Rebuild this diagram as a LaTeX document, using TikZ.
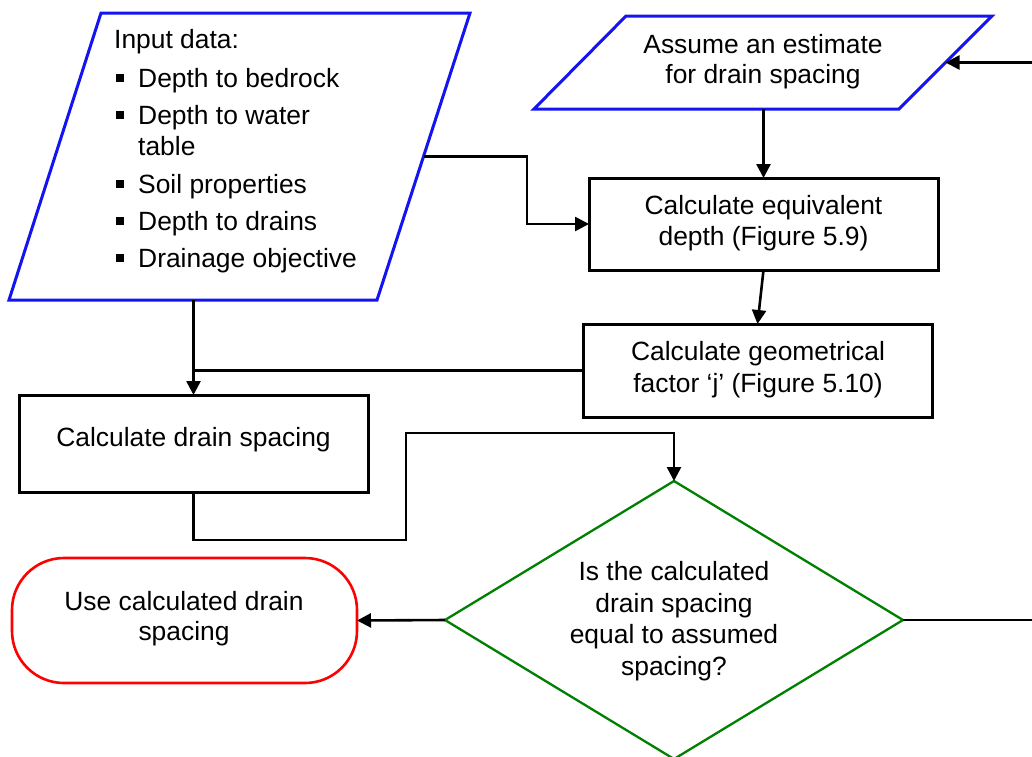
\documentclass[tikz,border=0pt]{standalone}
\usepackage{fontspec}
\setmainfont{Liberation Sans}
\usetikzlibrary{shapes.geometric,arrows.meta}
\definecolor{ioblue}{RGB}{20,20,240}
\definecolor{decgreen}{RGB}{0,128,0}
\definecolor{endred}{RGB}{255,0,0}
% small filled square used as a list bullet
\newcommand\sqbul{\makebox[22pt][l]{\raisebox{5pt}{\rule{8pt}{8pt}}}}
\begin{document}
\begin{tikzpicture}[x=1pt,y=-1pt,
  lbl/.style={font=\fontsize{26.4}{31}\selectfont, inner sep=0pt, anchor=base},
  lbll/.style={lbl, anchor=base west},
  procbox/.style={draw=black, line width=3pt, rectangle, inner sep=0pt, outer sep=0pt},
  iobox/.style={draw=ioblue, line width=3pt, line join=miter},
  decbox/.style={draw=decgreen, line width=2.3pt, diamond, inner sep=0pt, outer sep=0pt},
  endbox/.style={draw=endred, line width=2.6pt, rectangle, rounded corners=52pt, inner sep=0pt, outer sep=0pt},
  link/.style={line width=2.6pt},
  flow/.style={link, -{Triangle[length=14pt,width=14pt]}}]

\fill[white] (0,0) rectangle (1032,756);
\useasboundingbox (0,0) rectangle (1032,756);
\clip (0,0) rectangle (1032,756);

% input data (parallelogram)
\draw[iobox] (101,13) -- (470,13) -- (377,300) -- (9,300) -- cycle;
\coordinate (inE) at (423.5,156.5);
\coordinate (inS) at (193,300);
\node[lbll] (in0) at (114,48) {Input data:};
\node[lbll] (in1) at (116,87) {\sqbul Depth to bedrock};
\node[lbll] (in2) at (116,124) {\sqbul Depth to water};
\node[lbll] (in2b) at (138,155) {table};
\node[lbll] (in3) at (116,193) {\sqbul Soil properties};
\node[lbll] (in4) at (116,230) {\sqbul Depth to drains};
\node[lbll] (in5) at (116,267) {\sqbul Drainage objective};

% assumed spacing (parallelogram)
\draw[iobox] (626,16) -- (992,16) -- (899,109) -- (534,109) -- cycle;
\coordinate (asE) at (945.5,62.5);
\coordinate (asS) at (763,109);
\node[lbl] (as1) at (763,53) {Assume an estimate};
\node[lbl] (as2) at (763,83) {for drain spacing};

% process boxes
\node[procbox, minimum width=349pt, minimum height=92pt] (equiv) at (763.5,224) {};
\node[lbl] (eq1) at (763.5,214) {Calculate equivalent};
\node[lbl] (eq2) at (763.5,245) {depth (Figure 5.9)};

\node[procbox, minimum width=349pt, minimum height=93pt] (geo) at (757.5,370.5) {};
\node[lbl] (ge1) at (758,360) {Calculate geometrical};
\node[lbl] (ge2) at (758,392) {factor ‘j’ (Figure 5.10)};

\node[procbox, minimum width=349pt, minimum height=97pt] (drain) at (193.5,443.5) {};
\node[lbl] (dr1) at (193.5,446) {Calculate drain spacing};

% decision
\node[decbox, minimum width=458pt, minimum height=278pt] (dec) at (674,620) {};
\node[lbl] (de1) at (674,580) {Is the calculated};
\node[lbl] (de2) at (674,612) {drain spacing};
\node[lbl] (de3) at (674,643) {equal to assumed};
\node[lbl] (de4) at (674,675) {spacing?};

% end
\node[endbox, minimum width=345pt, minimum height=125pt] (term) at (184.5,620.5) {};
\node[lbl] (te1) at (184,610) {Use calculated drain};
\node[lbl] (te2) at (184,640) {spacing};

% connectors
\coordinate (j1) at (406,540);
\coordinate (j2) at (406,433);
\coordinate (loop) at (1060,620);

\draw[flow] (inE) -- ++(103.5,0) |- (equiv.west);
\draw[flow] (equiv.north |- asS) -- (equiv.north);
\draw[flow] (equiv.south) -- (geo.north);
\draw[flow] (drain.north |- inS) -- (drain.north);
\draw[link] (geo.west) -- (drain.north |- geo.west);
\draw[flow] (drain.south) |- (j1) -- (j2) -| (dec.north);
\draw[flow] (dec.west) -- (term.east);
\draw[flow] (dec.east) -- (loop) |- (asE);

\end{tikzpicture}
\end{document}
